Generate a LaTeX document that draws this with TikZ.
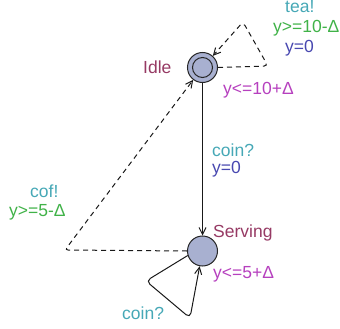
\documentclass[tikz,border=0pt]{standalone}
\usepackage{fontspec}
\setmainfont{Liberation Sans}
\usetikzlibrary{arrows.meta}
\definecolor{synccol}{RGB}{70,168,182}
\definecolor{guardcol}{RGB}{64,178,72}
\definecolor{assigncol}{RGB}{72,72,176}
\definecolor{invcol}{RGB}{182,64,190}
\definecolor{namecol}{RGB}{150,58,100}
\definecolor{locfill}{RGB}{168,176,208}
\tikzset{
  loc/.style={circle, draw=black!85, fill=locfill, line width=1pt, minimum size=30pt, inner sep=0pt},
  lbl/.style={anchor=base west, inner sep=0pt, font=\fontsize{17.5}{20}\selectfont},
  edge/.style={line width=1pt, black!90, -{Straight Barb[length=7pt,width=7pt]}},
  dedge/.style={edge, dash pattern=on 5pt off 4pt},
}
\begin{document}
\begin{tikzpicture}[x=1pt,y=-1pt]
\useasboundingbox (0,0) rectangle (340,329);
\node[loc] (idle) at (202.5,67.5) {};
\draw[black!85, line width=1pt] (idle) circle (10pt);
\node[loc] (serv) at (202.5,251) {};
% labels
\node[lbl, text=namecol] (nidle) at (143,74) {Idle};
\node[lbl, text=invcol] (iidle) at (223,95) {y<=10+Δ};
\node[lbl, text=namecol] (nserv) at (213,237) {Serving};
\node[lbl, text=invcol] (iserv) at (213,278) {y<=5+Δ};
\node[lbl, text=synccol] (stea) at (285,13) {tea!};
\node[lbl, text=guardcol] (gtea) at (273,33) {y>=10-Δ};
\node[lbl, text=assigncol] (atea) at (285,53) {y=0};
\node[lbl, text=synccol] (scoin) at (212,156) {coin?};
\node[lbl, text=assigncol] (acoin) at (212,173) {y=0};
\node[lbl, text=synccol] (scof) at (30,197) {cof!};
\node[lbl, text=guardcol] (gcof) at (9,216) {y>=5-Δ};
\node[lbl, text=synccol] (scoin2) at (122,319) {coin?};
% corner points
\coordinate (t1) at (268,66);
\coordinate (t2) at (243,22);
\coordinate (c1) at (65,250);
\coordinate (s1) at (146,281);
\coordinate (s2) at (190,318);
% edges
\draw[dedge, rounded corners=4pt] (idle.east) -- (t1) -- (t2) -- (idle);
\draw[dedge, rounded corners=3pt] (serv.west) -- (c1) -- (idle);
\draw[edge] (idle.south) -- (serv.north);
\draw[edge, rounded corners=5pt] (serv) ++(-163:15.5pt) -- (s1) -- (s2) -- (serv);
\end{tikzpicture}
\end{document}
